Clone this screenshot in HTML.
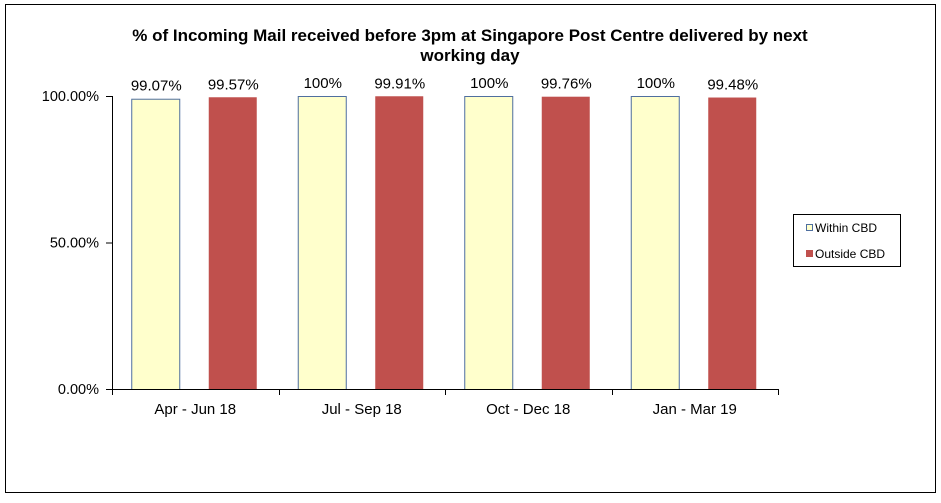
<!DOCTYPE html>
<html><head><meta charset="utf-8"><style>
body{margin:0;background:#fff;font-family:"Liberation Sans",Arial,sans-serif;}
svg text{font-family:"Liberation Sans",Arial,sans-serif;}
</style></head><body>
<svg width="941" height="498" xmlns="http://www.w3.org/2000/svg">
<rect x="5.5" y="4.5" width="930" height="488" fill="#fff" stroke="#000"/>
<text x="470" y="41" text-anchor="middle" font-size="17" font-weight="bold">% of Incoming Mail received before 3pm at Singapore Post Centre delivered by next</text>
<text x="470" y="61" text-anchor="middle" font-size="17" font-weight="bold">working day</text>
<g id="plot"></g>
<g>
<rect x="793.5" y="214.5" width="107" height="52" fill="#fff" stroke="#000"/>
<rect x="806.5" y="224.5" width="6" height="6" fill="#FFFFCC" stroke="#4F6F9F"/>
<text x="815" y="232" font-size="12">Within CBD</text>
<rect x="806" y="250" width="7" height="7" fill="#C0504D"/>
<text x="815" y="258" font-size="12">Outside CBD</text>
</g>
</svg>
<script>
const categories=["Apr - Jun 18","Jul - Sep 18","Oct - Dec 18","Jan - Mar 19"];
const within=[99.07,100,100,100];
const outside=[99.57,99.91,99.76,99.48];
const withinLabels=["99.07%","100%","100%","100%"];
const outsideLabels=["99.57%","99.91%","99.76%","99.48%"];
const yTicks=[0,50,100];
const yTickLabels=["0.00%","50.00%","100.00%"];
const NS="http://www.w3.org/2000/svg";
const g=document.getElementById('plot');
const X0=112,X1=778,Y0=389,Y1=96;
const band=(X1-X0)/categories.length;
function y(v){return Y0-(v/100)*(Y0-Y1);}
function xc(i){return X0+band*(i+0.5);}
function mk(t,a){const e=document.createElementNS(NS,t);for(const k in a)e.setAttribute(k,a[k]);g.appendChild(e);return e;}
yTicks.forEach((v,i)=>{
 const t=mk('line',{x1:X0-6,x2:X0,y1:y(v)+0.5,y2:y(v)+0.5,stroke:'#000'});
 
 
 const l=mk('text',{x:X0-13,y:y(v)+5,'text-anchor':'end','font-size':14.5});
 l.textContent=yTickLabels[i];
 
 
});
for(let i=0;i<=categories.length;i++){
 const xx=Math.round(X0+band*i)+0.5;
 const t=mk('line',{x1:xx,x2:xx,y1:Y0,y2:Y0+6,stroke:'#000'});
 
 
}
categories.forEach((c,i)=>{
 const cx=xc(i);
 const h1=y(within[i]);
 const b1=mk('rect',{x:cx-63.5,y:h1+0.5,width:48,height:Y0-h1,fill:'#FFFFCC',stroke:'#4F6F9F'});
 
 
 const l1=mk('text',{x:cx-39,y:h1-8,'text-anchor':'middle','font-size':15});
 l1.textContent=withinLabels[i];
 
 
 const h2=y(outside[i]);
 const b2=mk('rect',{x:cx+13.5,y:h2,width:48,height:Y0-h2,fill:'#C0504D'});
 
 
 const l2=mk('text',{x:cx+38,y:h2-8,'text-anchor':'middle','font-size':15});
 l2.textContent=outsideLabels[i];
 
 
 const cl=mk('text',{x:cx,y:Y0+25,'text-anchor':'middle','font-size':15});
 cl.textContent=c;
 
 
});
const ya=mk('line',{x1:X0+0.5,x2:X0+0.5,y1:Y1,y2:Y0,stroke:'#000'});


const xa=mk('line',{x1:X0,x2:X1,y1:Y0+0.5,y2:Y0+0.5,stroke:'#000'});


</script>
</body></html>
